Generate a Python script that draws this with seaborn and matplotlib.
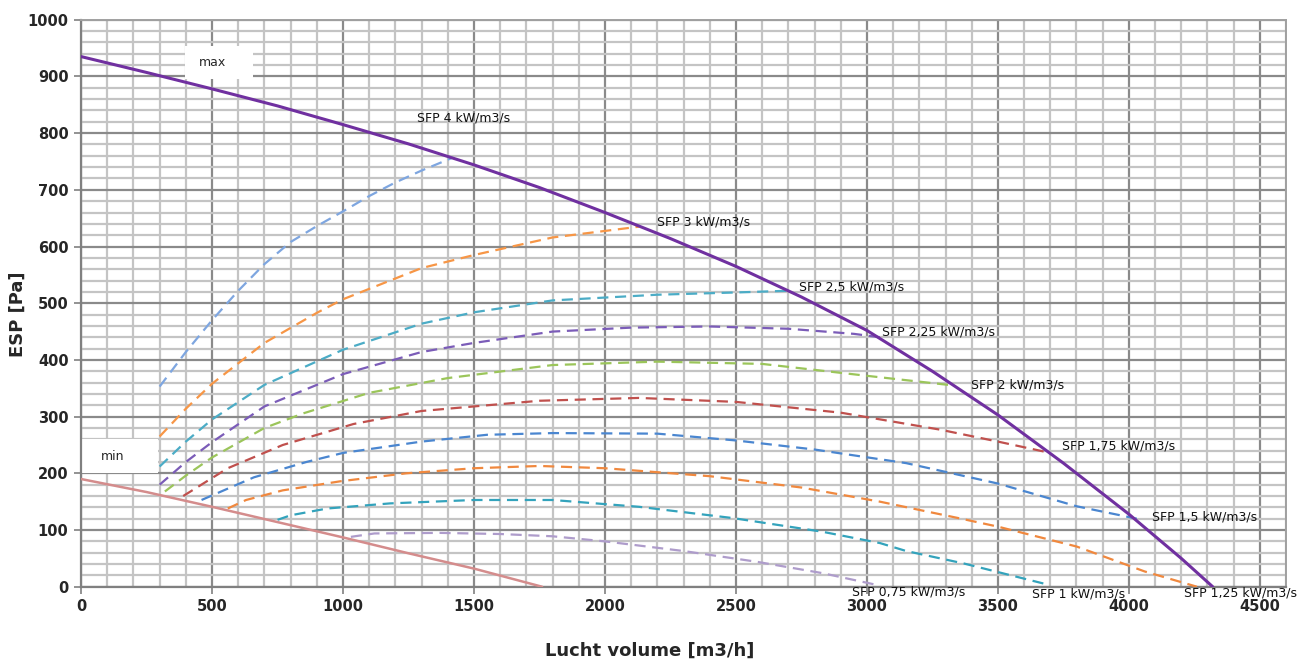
import matplotlib
matplotlib.use("Agg")
import matplotlib.pyplot as plt
import numpy as np
import pandas as pd
import seaborn as sns
from matplotlib.patches import Rectangle
from matplotlib.ticker import MultipleLocator


# max / min working limits
MAX_X = [0, 250, 500, 750, 1000, 1250, 1500, 1750, 2000, 2250, 2500, 2750, 3000, 3250, 3500, 3750, 4000, 4200, 4320]
MAX_Y = [935, 907, 878, 848, 815, 781, 744, 704, 660, 614, 565, 511, 452, 380, 303, 218, 128, 50, 0]
MIN_X = [0, 250, 500, 750, 1000, 1250, 1500, 1760]
MIN_Y = [190, 167, 141, 114, 87, 59, 32, 0]

# constant SFP curves
SFP4_X = [300, 400, 500, 600, 700, 800, 900, 1000, 1100, 1200, 1300, 1420]
SFP4_Y = [353, 414, 470, 522, 569, 608, 636, 662, 689, 713, 734, 757]
SFP3_X = [300, 400, 500, 700, 900, 1000, 1300, 1500, 1800, 2130]
SFP3_Y = [265, 314, 358, 430, 483, 507, 562, 585, 616, 635]
SFP25_X = [300, 400, 500, 700, 1000, 1300, 1500, 1800, 2200, 2500, 2700]
SFP25_Y = [212, 256, 295, 356, 418, 464, 484, 505, 515, 519, 522]
SFP225_X = [300, 400, 500, 700, 1000, 1300, 1500, 1800, 2100, 2400, 2700, 2950, 3050]
SFP225_Y = [180, 220, 255, 318, 375, 414, 430, 450, 457, 459, 455, 446, 440]
SFP2_X = [320, 400, 500, 700, 850, 1100, 1400, 1800, 2200, 2600, 3000, 3330]
SFP2_Y = [168, 196, 228, 280, 306, 342, 368, 391, 397, 393, 372, 355]
SFP175_X = [390, 560, 770, 1040, 1300, 1750, 2130, 2500, 2900, 3280, 3500, 3700]
SFP175_Y = [160, 209, 250, 287, 310, 328, 333, 326, 307, 277, 256, 236]
SFP15_X = [460, 520, 660, 860, 1000, 1300, 1550, 1800, 2200, 2500, 2800, 3150, 3500, 3800, 4030]
SFP15_Y = [153, 165, 193, 220, 236, 256, 268, 271, 270, 258, 242, 218, 182, 142, 120]
SFP125_X = [560, 630, 770, 990, 1240, 1500, 1750, 2000, 2400, 2750, 3050, 3350, 3500, 3800, 4060, 4260]
SFP125_Y = [138, 153, 170, 186, 200, 209, 213, 209, 195, 175, 150, 121, 106, 71, 27, 0]
SFP1_X = [750, 800, 940, 1180, 1500, 1800, 2130, 2490, 2830, 3050, 3150, 3370, 3680]
SFP1_Y = [118, 126, 138, 147, 153, 153, 141, 121, 97, 77, 63, 41, 5]
SFP075_X = [1030, 1120, 1370, 1600, 1800, 2000, 2300, 2580, 2830, 3050]
SFP075_Y = [88, 94, 95, 93, 89, 80, 63, 44, 24, 2]

SFP_LABELS = ["SFP 4 kW/m3/s", "SFP 3 kW/m3/s", "SFP 2,5 kW/m3/s", "SFP 2,25 kW/m3/s",
              "SFP 2 kW/m3/s", "SFP 1,75 kW/m3/s", "SFP 1,5 kW/m3/s", "SFP 1,25 kW/m3/s",
              "SFP 1 kW/m3/s", "SFP 0,75 kW/m3/s"]
SFP_COLORS = ["#7EA6E0", "#F79646", "#4BACC6", "#7B5CB8", "#9BC55A",
              "#C0504D", "#4A86D0", "#F0883E", "#33A3BC", "#AE9CCB"]
LABEL_X = [1281, 2200, 2742, 3059, 3398, 3745, 4089, 4211, 3631, 2944]
LABEL_Y = [826, 643, 529, 449, 356, 248, 123, -11, -13, -9]


def main():
    sns.set_theme(style="white")
    plt.rcParams["font.family"] = ["DejaVu Sans"]

    fig = plt.figure(figsize=(13.03, 6.66), dpi=100)
    ax = fig.add_axes([0.0622, 0.119, 0.9248, 0.8514])

    curves = [(SFP4_X, SFP4_Y), (SFP3_X, SFP3_Y), (SFP25_X, SFP25_Y), (SFP225_X, SFP225_Y),
              (SFP2_X, SFP2_Y), (SFP175_X, SFP175_Y), (SFP15_X, SFP15_Y),
              (SFP125_X, SFP125_Y), (SFP1_X, SFP1_Y), (SFP075_X, SFP075_Y)]
    for (xs, ys), label, color in zip(curves, SFP_LABELS, SFP_COLORS):
        df = pd.DataFrame({"x": xs, "y": ys})
        line = sns.lineplot(data=df, x="x", y="y", ax=ax, color=color, linewidth=1.6,
                            sort=False, errorbar=None, zorder=3)
        line.lines[-1].set_dashes((5, 3))

    sns.lineplot(x=MIN_X, y=MIN_Y, ax=ax, color="#D48C8C", linewidth=1.8,
                 sort=False, errorbar=None, zorder=3)
    sns.lineplot(x=MAX_X, y=MAX_Y, ax=ax, color="#7030A0", linewidth=2.2,
                 sort=False, errorbar=None, zorder=4)

    for label, lx, ly in zip(SFP_LABELS, LABEL_X, LABEL_Y):
        ax.text(lx, ly, label, fontsize=9, va="center", ha="left", color="#111111",
                zorder=5, clip_on=False)

    # white label boxes
    ax.add_patch(Rectangle((397, 896), 259, 57, facecolor="white", edgecolor="none", zorder=2))
    ax.text(500, 925, "max", fontsize=9, ha="center", va="center", zorder=5)
    ax.add_patch(Rectangle((0, 200), 293, 60, facecolor="white", edgecolor="none", zorder=2))
    ax.text(122, 229, "min", fontsize=9, ha="center", va="center", zorder=5)

    ax.set_xlim(0, 4600)
    ax.set_ylim(0, 1000)
    ax.xaxis.set_major_locator(MultipleLocator(500))
    ax.xaxis.set_minor_locator(MultipleLocator(100))
    ax.yaxis.set_major_locator(MultipleLocator(100))
    ax.yaxis.set_minor_locator(MultipleLocator(20))
    ax.grid(which="minor", color="#C4C4C4", linewidth=1.6, zorder=0)
    ax.grid(which="major", color="#8A8A8A", linewidth=1.6, zorder=1)
    ax.set_axisbelow(True)

    ax.tick_params(which="major", direction="out", length=5, width=1.2, color="#808080",
                   labelsize=10.5, pad=4, bottom=True, left=True)
    ax.tick_params(which="minor", length=0)
    for lbl in ax.get_xticklabels() + ax.get_yticklabels():
        lbl.set_fontweight("bold")

    for side in ["top", "right"]:
        ax.spines[side].set_color("#A0A0A0")
        ax.spines[side].set_linewidth(1.4)
    for side in ["left", "bottom"]:
        ax.spines[side].set_color("#808080")
        ax.spines[side].set_linewidth(1.6)

    ax.set_xlabel("Lucht volume [m3/h]", fontsize=13, fontweight="bold")
    ax.set_ylabel("ESP [Pa]", fontsize=13, fontweight="bold")
    ax.xaxis.set_label_coords(0.472, -0.097)
    ax.yaxis.set_label_coords(-0.045, 0.48)

    fig.savefig("out.png", dpi=100)
    plt.close(fig)


if __name__ == "__main__":
    main()
